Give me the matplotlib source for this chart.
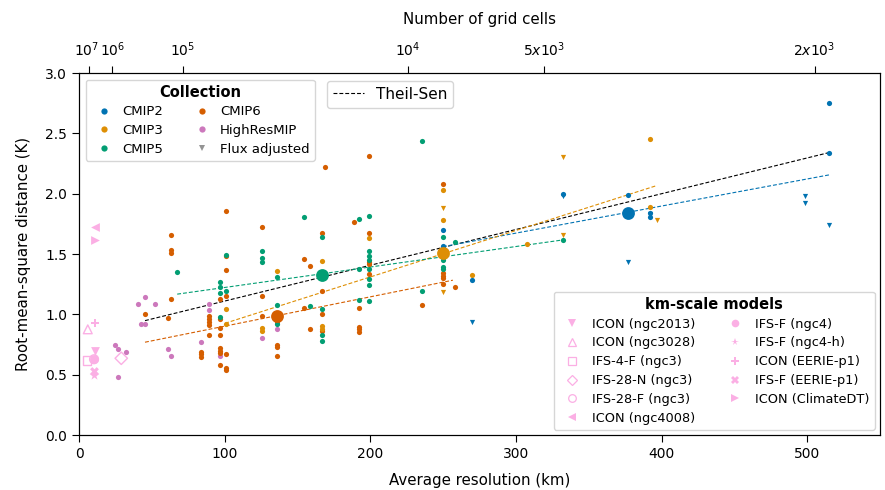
import numpy as np
import matplotlib
matplotlib.use("Agg")
import matplotlib.pyplot as plt
import matplotlib.transforms as mtransforms
from matplotlib.lines import Line2D

plt.rcParams['font.family'] = ['DejaVu Sans']

# ---------------- data ----------------
collections = ["CMIP2", "CMIP3", "CMIP5", "CMIP6", "HighResMIP"]
colors = {"CMIP2": "#0173b2", "CMIP3": "#de8f05", "CMIP5": "#029e73",
          "CMIP6": "#d55e00", "HighResMIP": "#cc78bc"}
flux_color = "#949494"
km_color = "#fbafe4"

# regular (non flux-adjusted) models: resolution (km), RMS distance (K)
cmip2_x = [249.9, 249.9, 270.0, 332.6, 377.2, 392.3, 392.3, 515.1, 515.1]
cmip2_y = [1.695, 1.567, 1.285, 1.998, 1.993, 1.843, 1.810, 2.753, 2.341]
cmip2_fx = [270.0, 332.6, 377.2, 392.3, 498.6, 498.6, 515.1]
cmip2_fy = [0.940, 1.980, 1.432, 1.830, 1.982, 1.926, 1.744]

cmip3_x = [100.6, 100.6, 125.5, 125.5, 135.8, 166.7, 166.7, 166.7, 198.9,
           249.9, 249.9, 270.0, 307.5, 392.3, 392.3]
cmip3_y = [1.045, 0.918, 0.885, 0.865, 1.362, 1.443, 0.904, 0.876, 1.633,
           2.029, 1.783, 1.327, 1.580, 2.452, 1.893]
cmip3_fx = [249.9, 249.9, 332.6, 332.6, 396.6]
cmip3_fy = [1.880, 1.188, 2.308, 1.658, 1.783]

cmip5_x = [67.4, 96.7, 96.7, 96.7, 96.7, 100.6, 100.6, 125.5, 125.5, 125.5,
           135.8, 135.8, 135.8, 154.3, 158.4, 166.7, 166.7, 166.7, 166.7,
           192.5, 192.5, 192.5, 198.9, 198.9, 198.9, 198.9, 198.9, 198.9,
           198.9, 198.9, 235.5, 235.5, 249.9, 249.9, 249.9, 249.9, 258.1,
           332.6]
cmip5_y = [1.350, 1.270, 1.230, 1.175, 0.980, 1.490, 1.190, 1.526, 1.470,
           1.434, 1.310, 1.080, 0.920, 1.805, 1.067, 1.640, 1.045, 0.829,
           0.780, 1.788, 1.376, 1.117, 1.813, 1.526, 1.484, 1.451, 1.374,
           1.291, 1.241, 1.114, 2.435, 1.194, 1.645, 1.451, 1.396, 1.374,
           1.600, 1.617]

cmip6_x = [45.3, 61.3, 63.0, 63.0, 63.0, 63.0, 83.9, 83.9, 83.9, 89.4, 89.4,
           89.4, 89.4, 89.4, 96.7, 96.7, 96.7, 96.7, 96.7, 96.7, 96.7, 96.7,
           100.6, 100.6, 100.6, 100.6, 100.6, 100.6, 100.6, 125.5, 125.5,
           125.5, 135.8, 135.8, 135.8, 135.8, 154.3, 154.3, 158.4, 158.4,
           166.7, 166.7, 166.7, 166.7, 168.7, 188.6, 192.5, 192.5, 192.5,
           192.5, 198.9, 198.9, 198.9, 198.9, 198.9, 235.5, 249.9, 249.9,
           249.9, 249.9, 249.9, 249.9, 258.1]
cmip6_y = [1.000, 0.967, 1.660, 1.530, 1.510, 1.125, 0.688, 0.669, 0.647,
           0.987, 0.962, 0.937, 0.909, 0.826, 1.130, 0.960, 0.887, 0.832,
           0.721, 0.699, 0.677, 0.580, 1.857, 1.480, 1.370, 1.150, 0.669,
           0.558, 0.539, 1.720, 1.153, 0.987, 0.940, 0.749, 0.727, 0.658,
           1.459, 1.056, 1.400, 0.876, 1.675, 1.194, 1.006, 0.862, 2.225,
           1.764, 1.050, 0.898, 0.876, 0.854, 2.313, 1.675, 1.432, 1.415,
           1.335, 1.080, 2.081, 1.341, 1.318, 1.299, 1.252, 1.510, 1.227]

hrmip_x = [24.9, 26.5, 26.5, 32.2, 40.7, 42.5, 45.3, 45.3, 52.1, 61.3, 63.0,
           83.9, 89.4, 89.4, 96.7, 125.5, 135.8]
hrmip_y = [0.749, 0.716, 0.481, 0.688, 1.086, 0.923, 1.144, 0.918, 1.084,
           0.716, 0.658, 0.769, 1.089, 1.039, 0.655, 0.800, 0.876]

# collection means (large markers)
mean_x = {"CMIP2": 377.2, "CMIP3": 249.9, "CMIP5": 166.7, "CMIP6": 135.8}
mean_y = {"CMIP2": 1.838, "CMIP3": 1.512, "CMIP5": 1.330, "CMIP6": 0.990}

# Theil-Sen fits: x start, x end, slope (K/km), intercept (K)
fit_names = ["all", "CMIP2", "CMIP3", "CMIP5", "CMIP6"]
fit_x0 = [45.3, 249.9, 100.3, 67.4, 45.3]
fit_x1 = [515.1, 515.1, 396.6, 332.6, 256.7]
fit_slope = [0.002965, 0.002244, 0.003850, 0.001697, 0.002431]
fit_icpt = [0.8137, 1.000, 0.540, 1.053, 0.659]

# km-scale models
km_names = ["ICON (ngc2013)", "ICON (ngc3028)", "IFS-4-F (ngc3)", "IFS-28-N (ngc3)",
            "IFS-28-F (ngc3)", "ICON (ngc4008)", "IFS-F (ngc4)", "IFS-F (ngc4-h)",
            "ICON (EERIE-p1)", "IFS-F (EERIE-p1)", "ICON (ClimateDT)"]
km_x = [11.0, 6.0, 5.5, 29.0, 10.3, 11.0, 10.3, 10.0, 11.0, 10.0, 11.0]
km_y = [0.697, 0.876, 0.619, 0.636, 0.628, 1.727, 0.628, 0.500, 0.931, 0.530, 1.617]
km_marker = ["v", "^", "s", "D", "o", "<", "o", "*", "P", "X", ">"]
km_filled = [True, False, False, False, False, True, True, True, True, True, True]

# top axis: number of grid cells
grid_cells = [1e7, 1e6, 1e5, 1e4, 5e3, 2e3]
grid_labels = [r"$10^7$", r"$10^6$", r"$10^5$", r"$10^4$", r"$5x10^3$", r"$2x10^3$"]
earth_area = 4 * np.pi * 6371.0 ** 2

# ---------------- plot ----------------
fig = plt.figure(figsize=(8.85, 4.9), dpi=100)
ax = fig.add_axes([0.0893, 0.1122, 0.9051, 0.7388])

s_small = 14
ax.scatter(hrmip_x, hrmip_y, s=s_small, color=colors["HighResMIP"], lw=0, zorder=3)
series = [("CMIP6", cmip6_x, cmip6_y), ("CMIP5", cmip5_x, cmip5_y),
          ("CMIP3", cmip3_x, cmip3_y), ("CMIP2", cmip2_x, cmip2_y)]
for name, xs, ys in series:
    ax.scatter(xs, ys, s=s_small, color=colors[name], lw=0, zorder=3)
ax.scatter(cmip3_fx, cmip3_fy, s=s_small, marker="v", color=colors["CMIP3"], lw=0, zorder=3)
ax.scatter(cmip2_fx, cmip2_fy, s=s_small, marker="v", color=colors["CMIP2"], lw=0, zorder=3)

for name in ["CMIP2", "CMIP3", "CMIP5", "CMIP6"]:
    ax.scatter([mean_x[name]], [mean_y[name]], s=85, color=colors[name], lw=0, zorder=4)

fit_colors = {"all": "black", **colors}
for n, x0, x1, m, b in zip(fit_names, fit_x0, fit_x1, fit_slope, fit_icpt):
    xx = np.array([x0, x1])
    ax.plot(xx, m * xx + b, ls=(0, (3.5, 1.8)), lw=0.8, color=fit_colors[n], zorder=2)

km_handles = []
for nm, x, y, mk, f in zip(km_names, km_x, km_y, km_marker, km_filled):
    sz = 40 if mk != "*" else 55
    if f:
        ax.scatter([x], [y], s=sz, marker=mk, color=km_color, lw=0, zorder=5)
        km_handles.append(Line2D([], [], ls="", marker=mk, markersize=5.5,
                                 color=km_color, markeredgewidth=0))
    else:
        ax.scatter([x], [y], s=sz, marker=mk, facecolor="none", edgecolor=km_color,
                   lw=1.0, zorder=5)
        km_handles.append(Line2D([], [], ls="", marker=mk, markersize=5.5,
                                 markerfacecolor="none", markeredgecolor=km_color,
                                 markeredgewidth=0.9))

ax.set_xlim(0, 550)
ax.set_ylim(0, 3.0)
ax.set_yticks(np.arange(0, 3.01, 0.5))
ax.set_xlabel("Average resolution (km)", fontsize=10.8, labelpad=9)
ax.set_ylabel("Root-mean-square distance (K)", fontsize=10.8, labelpad=10)
ax.tick_params(labelsize=10, length=5)

# top axis
ax2 = ax.twiny()
ax2.set_xlim(ax.get_xlim())
ax2.set_xticks(np.sqrt(earth_area / np.array(grid_cells)))
ax2.set_xticklabels(grid_labels, fontsize=10)
ax2.tick_params(length=5, pad=5)
ax2.set_xlabel("Number of grid cells", fontsize=10.8, labelpad=12)
fig.canvas.draw()
lbls = ax2.get_xticklabels()
lbls[0].set_transform(lbls[0].get_transform() +
                      mtransforms.ScaledTranslation(-3 / 100, 0, fig.dpi_scale_trans))
lbls[1].set_transform(lbls[1].get_transform() +
                      mtransforms.ScaledTranslation(1 / 100, 0, fig.dpi_scale_trans))

# legends
coll_handles = [Line2D([], [], ls="", marker="o", markersize=4.5,
                       color=colors[c], markeredgewidth=0) for c in collections]
coll_handles.append(Line2D([], [], ls="", marker="v", markersize=4.5,
                           color=flux_color, markeredgewidth=0))
coll_labels = collections + ["Flux adjusted"]
leg1 = ax.legend(coll_handles, coll_labels, ncol=2, title="Collection",
                 title_fontproperties={"weight": "bold", "size": 10.5},
                 fontsize=9.5, loc="upper left", bbox_to_anchor=(0.0, 1.0),
                 handletextpad=0.4, columnspacing=1.9, borderaxespad=0.5,
                 labelspacing=0.42)
ax.add_artist(leg1)

ts_handle = Line2D([], [], ls=(0, (3.5, 1.8)), lw=0.8, color="black")
leg2 = ax.legend([ts_handle], ["Theil-Sen"], fontsize=11, loc="upper left",
                 bbox_to_anchor=(0.3, 1.0), borderaxespad=0.5)
ax.add_artist(leg2)

ax.legend(km_handles, km_names, ncol=2, title="km-scale models",
          title_fontproperties={"weight": "bold", "size": 10.5},
          fontsize=9.3, loc="lower right", labelspacing=0.45,
          handletextpad=0.6, columnspacing=2.0, borderaxespad=0.4)

fig.savefig("out.png", dpi=100)
